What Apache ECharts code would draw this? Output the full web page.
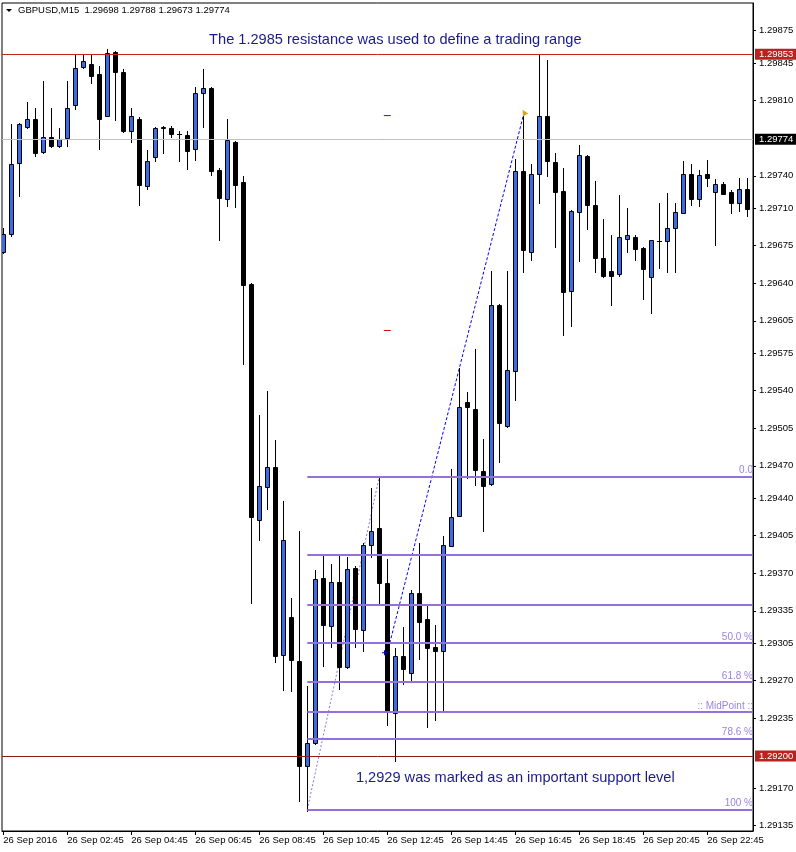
<!DOCTYPE html>
<html><head><meta charset="utf-8">
<script src="https://cdn.jsdelivr.net/npm/echarts@6/dist/echarts.min.js"></script>
<style>html,body{margin:0;padding:0;background:#fff}#c{width:796px;height:852px}</style>
</head><body><div id="c"></div>
<script>
// ---- data ----
const headerText = 'GBPUSD,M15  1.29698 1.29788 1.29673 1.29774';
const timeLabels = ['26 Sep 2016','26 Sep 02:45','26 Sep 04:45','26 Sep 06:45','26 Sep 08:45','26 Sep 10:45','26 Sep 12:45','26 Sep 14:45','26 Sep 16:45','26 Sep 18:45','26 Sep 20:45','26 Sep 22:45'];
const timeTickIndex = [0,8,16,24,32,40,48,56,64,72,80,88];
const priceTicks = [1.29875,1.29845,1.29810,1.29740,1.29710,1.29675,1.29640,1.29605,1.29575,1.29540,1.29505,1.29470,1.29440,1.29405,1.29370,1.29335,1.29305,1.29270,1.29235,1.29170,1.29135];

const opens = [1.29669,1.29686,1.29752,1.29785,1.29793,1.29762,1.29776,1.29768,1.29775,1.29806,1.29841,1.29844,1.29835,1.29796,1.29855,1.29837,1.29782,1.29793,1.29730,1.29757,1.29784,1.29784,1.29779,1.29778,1.29765,1.29817,1.29822,1.29745,1.29718,1.29771,1.29734,1.29639,1.29420,1.29450,1.29469,1.29294,1.29329,1.29288,1.29191,1.29212,1.29366,1.29321,1.29362,1.29283,1.29375,1.29317,1.29396,1.29412,1.29361,1.29240,1.29293,1.29277,1.29352,1.29327,1.29301,1.29298,1.29395,1.29423,1.29529,1.29523,1.29465,1.29453,1.29620,1.29507,1.29558,1.29744,1.29669,1.29742,1.29796,1.29753,1.29726,1.29633,1.29706,1.29758,1.29713,1.29663,1.29651,1.29649,1.29681,1.29683,1.29673,1.29646,1.29679,1.29679,1.29691,1.29705,1.29742,1.29718,1.29742,1.29725,1.29732,1.29725,1.29715,1.29728];
const highs = [1.29691,1.29788,1.29789,1.29809,1.29803,1.29828,1.29803,1.29784,1.29828,1.29852,1.29852,1.29853,1.29842,1.29858,1.29856,1.29839,1.29803,1.29795,1.29764,1.29785,1.29786,1.29786,1.29782,1.29782,1.29823,1.29839,1.29823,1.29747,1.29793,1.29772,1.29740,1.29640,1.29517,1.29540,1.29494,1.29437,1.29347,1.29409,1.29265,1.29373,1.29388,1.29379,1.29388,1.29385,1.29377,1.29398,1.29449,1.29460,1.29383,1.29300,1.29320,1.29354,1.29398,1.29341,1.29322,1.29405,1.29467,1.29561,1.29539,1.29579,1.29495,1.29651,1.29621,1.29651,1.29756,1.29796,1.29751,1.29853,1.29848,1.29761,1.29747,1.29708,1.29769,1.29759,1.29735,1.29700,1.29685,1.29722,1.29710,1.29685,1.29674,1.29680,1.29715,1.29724,1.29715,1.29754,1.29751,1.29745,1.29755,1.29737,1.29734,1.29727,1.29738,1.29738];
const lows = [1.29668,1.29684,1.29721,1.29784,1.29758,1.29761,1.29767,1.29767,1.29768,1.29802,1.29840,1.29826,1.29765,1.29796,1.29792,1.29781,1.29771,1.29713,1.29728,1.29754,1.29761,1.29776,1.29754,1.29746,1.29755,1.29785,1.29741,1.29680,1.29712,1.29711,1.29565,1.29342,1.29401,1.29430,1.29287,1.29261,1.29260,1.29158,1.29149,1.29211,1.29284,1.29301,1.29262,1.29282,1.29301,1.29298,1.29385,1.29340,1.29229,1.29195,1.29267,1.29271,1.29290,1.29227,1.29233,1.29242,1.29395,1.29423,1.29459,1.29452,1.29409,1.29452,1.29474,1.29506,1.29531,1.29650,1.29662,1.29715,1.29740,1.29674,1.29592,1.29600,1.29661,1.29690,1.29650,1.29646,1.29620,1.29647,1.29669,1.29662,1.29625,1.29612,1.29654,1.29650,1.29650,1.29705,1.29713,1.29712,1.29730,1.29676,1.29723,1.29705,1.29707,1.29703];
const closes = [1.29686,1.29751,1.29788,1.29793,1.29761,1.29776,1.29768,1.29774,1.29803,1.29840,1.29847,1.29833,1.29793,1.29854,1.29837,1.29782,1.29796,1.29731,1.29754,1.29784,1.29785,1.29779,1.29779,1.29763,1.29817,1.29822,1.29744,1.29719,1.29773,1.29731,1.29638,1.29422,1.29451,1.29469,1.29293,1.29401,1.29289,1.29191,1.29212,1.29365,1.29322,1.29362,1.29283,1.29374,1.29318,1.29396,1.29409,1.29361,1.29242,1.29293,1.29281,1.29352,1.29325,1.29300,1.29298,1.29396,1.29422,1.29525,1.29525,1.29466,1.29451,1.29620,1.29510,1.29559,1.29744,1.29671,1.29742,1.29796,1.29754,1.29725,1.29632,1.29707,1.29759,1.29713,1.29663,1.29647,1.29647,1.29683,1.29685,1.29672,1.29653,1.29680,1.29679,1.29691,1.29706,1.29742,1.29718,1.29741,1.29738,1.29732,1.29723,1.29715,1.29728,1.29709];

// horizontal price levels
const levelPrices = [1.29853, 1.29774, 1.29200];
const levelLineColors = ['#c62222', '#c0c0c0', '#8b1c1c'];
const levelBoxColors = ['#b8231f', '#000000', '#b8231f'];

// fibonacci retracement (anchors and levels)
const fibStart = [38, 1.29150];
const fibEnd = [47, 1.29460];
const fibPrices = [1.29460, 1.29387, 1.29341, 1.29305, 1.29269, 1.29241, 1.29216, 1.29150];
const fibNames = ['0.0', '', '', '50.0 %', '61.8 %', ':: MidPoint ::', '78.6 %', '100 %'];

// trend line
const trendStart = [48, 1.29296];
const trendEnd = [65, 1.29796];

// annotation texts
const noteTexts = ['The 1.2985 resistance was used to define a trading range', '1,2929 was marked as an important support level'];
const notePos = [[49, 1.29866], [64, 1.29179]];

// ---- chart ----
const X_MIN = -0.1625, X_MAX = 93.7125;
const Y_MIN = 1.291301, Y_MAX = 1.299008;
const FONT = '"Liberation Sans", Arial, sans-serif';
const candleData = opens.map((o, i) => [i, o, closes[i], lows[i], highs[i]]);

const chart = echarts.init(document.getElementById('c'), null, {renderer: 'canvas'});

function renderCandle(params, api) {
  const i = api.value(0), o = api.value(1), c = api.value(2), l = api.value(3), h = api.value(4);
  const pO = api.coord([i, o]), pC = api.coord([i, c]), pL = api.coord([i, l]), pH = api.coord([i, h]);
  const x = Math.round(pO[0]) + 0.5;
  const yT = Math.round(Math.min(pO[1], pC[1])) + 0.5;
  const yB = Math.round(Math.max(pO[1], pC[1])) + 0.5;
  const children = [{
    type: 'line',
    shape: {x1: x, y1: Math.round(pH[1]), x2: x, y2: Math.round(pL[1]) + 1},
    style: {stroke: '#000', lineWidth: 1}
  }];
  if (yB - yT < 1) {
    children.push({type: 'line', shape: {x1: x - 2.5, y1: yT, x2: x + 2.5, y2: yT}, style: {stroke: '#000', lineWidth: 1}});
  } else {
    children.push({
      type: 'rect',
      shape: {x: x - 2, y: yT, width: 4, height: yB - yT},
      style: {fill: c > o ? '#3f6be0' : '#000', stroke: '#000', lineWidth: 1}
    });
  }
  return {type: 'group', children};
}

const option = {
  animation: false,
  backgroundColor: '#fff',
  grid: {left: 2, right: 43, top: 3, bottom: 21, show: true, borderColor: '#000', borderWidth: 1, backgroundColor: '#fff', outerBoundsMode: 'none', containLabel: false},
  graphic: [
    {type: 'polygon', shape: {points: [[6, 9], [12, 9], [9, 12]]}, style: {fill: '#000'}, z: 100},
    {type: 'text', left: 18, top: 5, style: {text: headerText, font: '9.5px "Liberation Sans"', fill: '#000'}, z: 100}
  ],
  xAxis: {
    type: 'value', min: X_MIN, max: X_MAX,
    axisLine: {show: true, onZero: false, lineStyle: {color: '#000', width: 1}},
    axisTick: {show: true, customValues: timeTickIndex, length: 4, inside: false, lineStyle: {color: '#000', width: 1}},
    axisLabel: {show: true, customValues: timeTickIndex, formatter: v => timeLabels[timeTickIndex.indexOf(Math.round(v))] || '', align: 'left', margin: 4, color: '#000', fontSize: 9.5, fontFamily: FONT},
    splitLine: {show: false}
  },
  yAxis: {
    type: 'value', position: 'right', min: Y_MIN, max: Y_MAX,
    axisLine: {show: true, onZero: false, lineStyle: {color: '#000', width: 1}},
    axisTick: {show: true, customValues: priceTicks, length: 3, inside: false, lineStyle: {color: '#000', width: 1}},
    axisLabel: {show: true, customValues: priceTicks, formatter: v => v.toFixed(5), margin: 6, color: '#000', fontSize: 9.5, fontFamily: FONT},
    splitLine: {show: false}
  },
  series: [
    {
      type: 'line', name: 'fib', data: [], silent: true, z: 1,
      markLine: {
        silent: true, symbol: ['none', 'none'], animation: false,
        lineStyle: {color: '#9370db', width: 2, type: 'solid'},
        label: {show: true, position: 'insideEndTop', distance: [0, 1], formatter: '{b}', color: '#9b82e0', fontSize: 10, fontFamily: FONT},
        data: fibPrices.map((p, i) => [{name: fibNames[i], coord: [fibStart[0], p]}, {coord: [X_MAX, p]}])
      }
    },
    {
      type: 'line', name: 'fibDiag', data: [fibStart, fibEnd], showSymbol: false, symbol: 'none', silent: true, z: 2,
      lineStyle: {color: '#9370db', width: 1, type: [2, 2]}
    },
    {
      type: 'line', name: 'trend', data: [trendStart, trendEnd], showSymbol: false, symbol: 'none', silent: true, z: 2, clip: false,
      lineStyle: {color: '#0000ff', width: 1, type: [3, 2]},
      markLine: {
        silent: true, symbol: ['none', 'none'], animation: false,
        data: levelPrices.map((p, i) => [
          {coord: [X_MIN, p], lineStyle: {color: levelLineColors[i], width: 1, type: 'solid'},
           label: {show: true, position: 'end', distance: 2, formatter: p.toFixed(5), color: '#fff', backgroundColor: levelBoxColors[i], padding: [1, 4, 0, 4], fontSize: 9.5, fontFamily: FONT}},
          {coord: [X_MAX, p]}
        ])
      }
    },
    {
      type: 'custom', name: 'GBPUSD', renderItem: renderCandle, data: candleData, clip: true, z: 3,
      encode: {x: 0, y: [1, 2, 3, 4]}
    },
    {
      type: 'scatter', name: 'marks', silent: true, z: 4, itemStyle: {opacity: 1},
      data: [
        {value: [47.65, 1.29296], symbol: 'path://M0,2h5v1h-5z M2,0h1v5h-1z', symbolSize: 5, itemStyle: {color: '#0000ff', opacity: 1}},
        {value: [48, 1.29796], symbol: 'rect', symbolSize: [7, 1], itemStyle: {color: '#20209a', opacity: 1}},
        {value: [48, 1.29596], symbol: 'rect', symbolSize: [7, 1], itemStyle: {color: '#e00000', opacity: 1}},
        {value: [65.1, 1.29799], symbol: 'triangle', symbolSize: 6, symbolRotate: 30, itemStyle: {color: '#daa520', opacity: 1}}
      ]
    },
    {
      type: 'scatter', name: 'notes', silent: true, z: 5, symbolSize: 0, itemStyle: {opacity: 1},
      data: notePos.map((p, i) => ({value: p, name: noteTexts[i]})),
      label: {show: true, position: [0, 0], align: 'center', verticalAlign: 'middle', formatter: '{b}', color: '#1a1a8c', opacity: 1, fontSize: 14.6, fontFamily: FONT}
    }
  ]
};
chart.setOption(option);
</script>
</body></html>
